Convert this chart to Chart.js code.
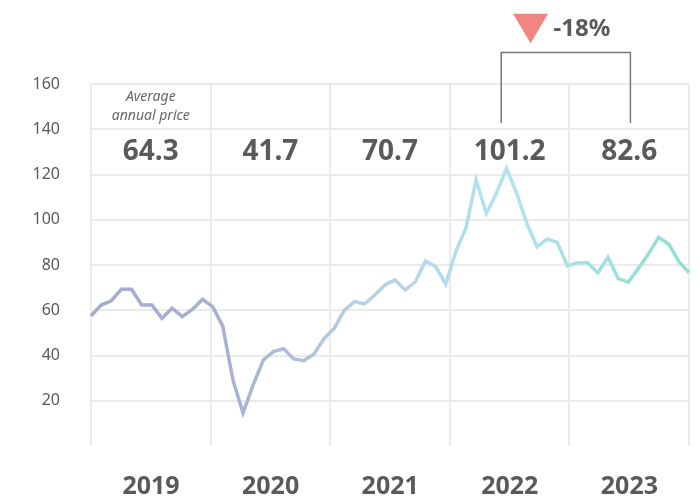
<!DOCTYPE html>
<html>
<head>
<meta charset="utf-8">
<script src="https://cdn.jsdelivr.net/npm/chart.js@4"></script>
<style>
  html, body { margin: 0; padding: 0; background: #fff; }
  #wrap { width: 700px; height: 502px; }
</style>
</head>
<body>
<div id="wrap"><canvas id="chart"></canvas></div>
<script>
// monthly price, Jan 2019 .. Dec 2023
const years = ['2019', '2020', '2021', '2022', '2023'];
const monthNames = ['Jan', 'Feb', 'Mar', 'Apr', 'May', 'Jun', 'Jul', 'Aug', 'Sep', 'Oct', 'Nov', 'Dec'];
const months = years.flatMap(y => monthNames.map(m => m + ' ' + y));

const prices2019 = [57.5, 62.3, 64.2, 69.3, 69.3, 62.3, 62.3, 56.4, 60.9, 57.2, 60.4, 64.8];
const prices2020 = [61.6, 53.0, 29.2, 14.6, 27.0, 38.0, 41.7, 43.0, 38.5, 37.7, 40.7, 47.5];
const prices2021 = [52.0, 60.0, 63.8, 62.8, 66.7, 71.2, 73.4, 69.0, 72.6, 81.8, 79.3, 71.5];
const prices2022 = [86.0, 96.5, 117.6, 102.8, 111.7, 122.7, 111.7, 98.4, 88.1, 91.5, 90.0, 79.6];
const prices2023 = [81.0, 81.0, 76.6, 83.4, 74.1, 72.4, 78.5, 84.9, 92.2, 89.3, 81.5, 76.6];
const prices = [...prices2019, ...prices2020, ...prices2021, ...prices2022, ...prices2023];

const annualAverages = ['64.3', '41.7', '70.7', '101.2', '82.6'];
const changeLabel = '-18%';
const yTicks = [20, 40, 60, 80, 100, 120, 140, 160];

const textColor = '#5a5a5a';
const gridColor = '#ebebeb';
const fontFamily = '"Noto Sans", "Open Sans", sans-serif';

function lineGradient(ctx) {
    const area = ctx.chart.chartArea;
    if (!area) return '#a9b0d2';
    const g = ctx.chart.ctx.createLinearGradient(area.left, 0, area.right, 0);
    g.addColorStop(0, '#a7aacc');
    g.addColorStop(0.25, '#a9b2d3');
    g.addColorStop(0.45, '#b6d0e6');
    g.addColorStop(0.7, '#b2e2f1');
    g.addColorStop(1, '#8edfce');
    return g;
}

// table of annual averages and the -18% bracket
const annotations = {
    id: 'annotations',
    afterDatasetsDraw(chart) {
        const {ctx} = chart;
        const xs = chart.scales.years;
        const ys = chart.scales.y;
        ctx.save();
        ctx.textAlign = 'center';
        ctx.textBaseline = 'middle';

        ctx.fillStyle = '#666';
        ctx.font = 'italic 14px ' + fontFamily;
        const cx0 = xs.getPixelForValue(0.5);
        ctx.fillText('Average', cx0, ys.getPixelForValue(150) - 9.5);
        ctx.fillText('annual price', cx0, ys.getPixelForValue(150) + 9.5);

        ctx.fillStyle = textColor;
        ctx.font = 'bold 28px ' + fontFamily;
        annualAverages.forEach((v, i) => {
            ctx.fillText(v, xs.getPixelForValue(i + 0.5), ys.getPixelForValue(130));
        });

        // bracket
        const bx1 = xs.getPixelForValue(3.43);
        const bx2 = xs.getPixelForValue(4.51);
        const bTop = Math.round(ys.getPixelForValue(174)) + 0.5;
        const bBot = ys.getPixelForValue(142.8);
        ctx.strokeStyle = '#777';
        ctx.lineWidth = 1.5;
        ctx.beginPath();
        ctx.moveTo(bx1, bBot);
        ctx.lineTo(bx1, bTop);
        ctx.lineTo(bx2, bTop);
        ctx.lineTo(bx2, bBot);
        ctx.stroke();

        // triangle
        const tx = xs.getPixelForValue(3.675);
        const tTop = ys.getPixelForValue(191);
        const tBot = ys.getPixelForValue(178);
        ctx.fillStyle = '#f28482';
        ctx.beginPath();
        ctx.moveTo(tx - 17.5, tTop);
        ctx.lineTo(tx + 17.5, tTop);
        ctx.lineTo(tx, tBot);
        ctx.closePath();
        ctx.fill();

        ctx.fillStyle = textColor;
        ctx.font = 'bold 24px ' + fontFamily;
        ctx.textAlign = 'left';
        ctx.fillText(changeLabel, tx + 23, ys.getPixelForValue(184.2));
        ctx.restore();
    }
};

const ctx = document.getElementById('chart').getContext('2d');
new Chart(ctx, {
    type: 'line',
    data: {
        labels: months,
        datasets: [{
            data: prices,
            borderColor: lineGradient,
            borderWidth: 3.5,
            pointRadius: 0,
            tension: 0,
            fill: false
        }]
    },
    options: {
        responsive: true,
        maintainAspectRatio: false,
        animation: false,
        layout: {padding: {top: 84, right: 11, left: 0, bottom: 0}},
        plugins: {legend: {display: false}, tooltip: {enabled: false}},
        scales: {
            x: {type: 'category', display: false, offset: false},
            years: {
                type: 'linear',
                position: 'bottom',
                min: 0,
                max: 5,
                afterBuildTicks: s => { s.ticks = [0, 1, 2, 3, 4, 5].map(v => ({value: v})); },
                afterFit: s => { s.height = 56; s.paddingLeft = 0; s.paddingRight = 0; },
                grid: {color: gridColor, lineWidth: 2, drawTicks: false},
                border: {display: false},
                ticks: {
                    autoSkip: false,
                    maxRotation: 0,
                    padding: 26,
                    labelOffset: 60,
                    color: textColor,
                    font: {family: fontFamily, size: 25, weight: 'bold'},
                    callback: v => years[v] ?? ''
                }
            },
            y: {
                min: 0,
                max: 160,
                afterBuildTicks: s => { s.ticks = [0, ...yTicks].map(v => ({value: v})); },
                afterFit: s => { s.width = 91; },
                grid: {
                    color: c => (c.tick && c.tick.value === 0) ? 'rgba(0,0,0,0)' : gridColor,
                    lineWidth: 2,
                    drawTicks: false
                },
                border: {display: false},
                ticks: {
                    padding: 31,
                    color: textColor,
                    font: {family: fontFamily, size: 16},
                    callback: v => v === 0 ? '' : v
                }
            }
        }
    },
    plugins: [annotations]
});
</script>
</body>
</html>
